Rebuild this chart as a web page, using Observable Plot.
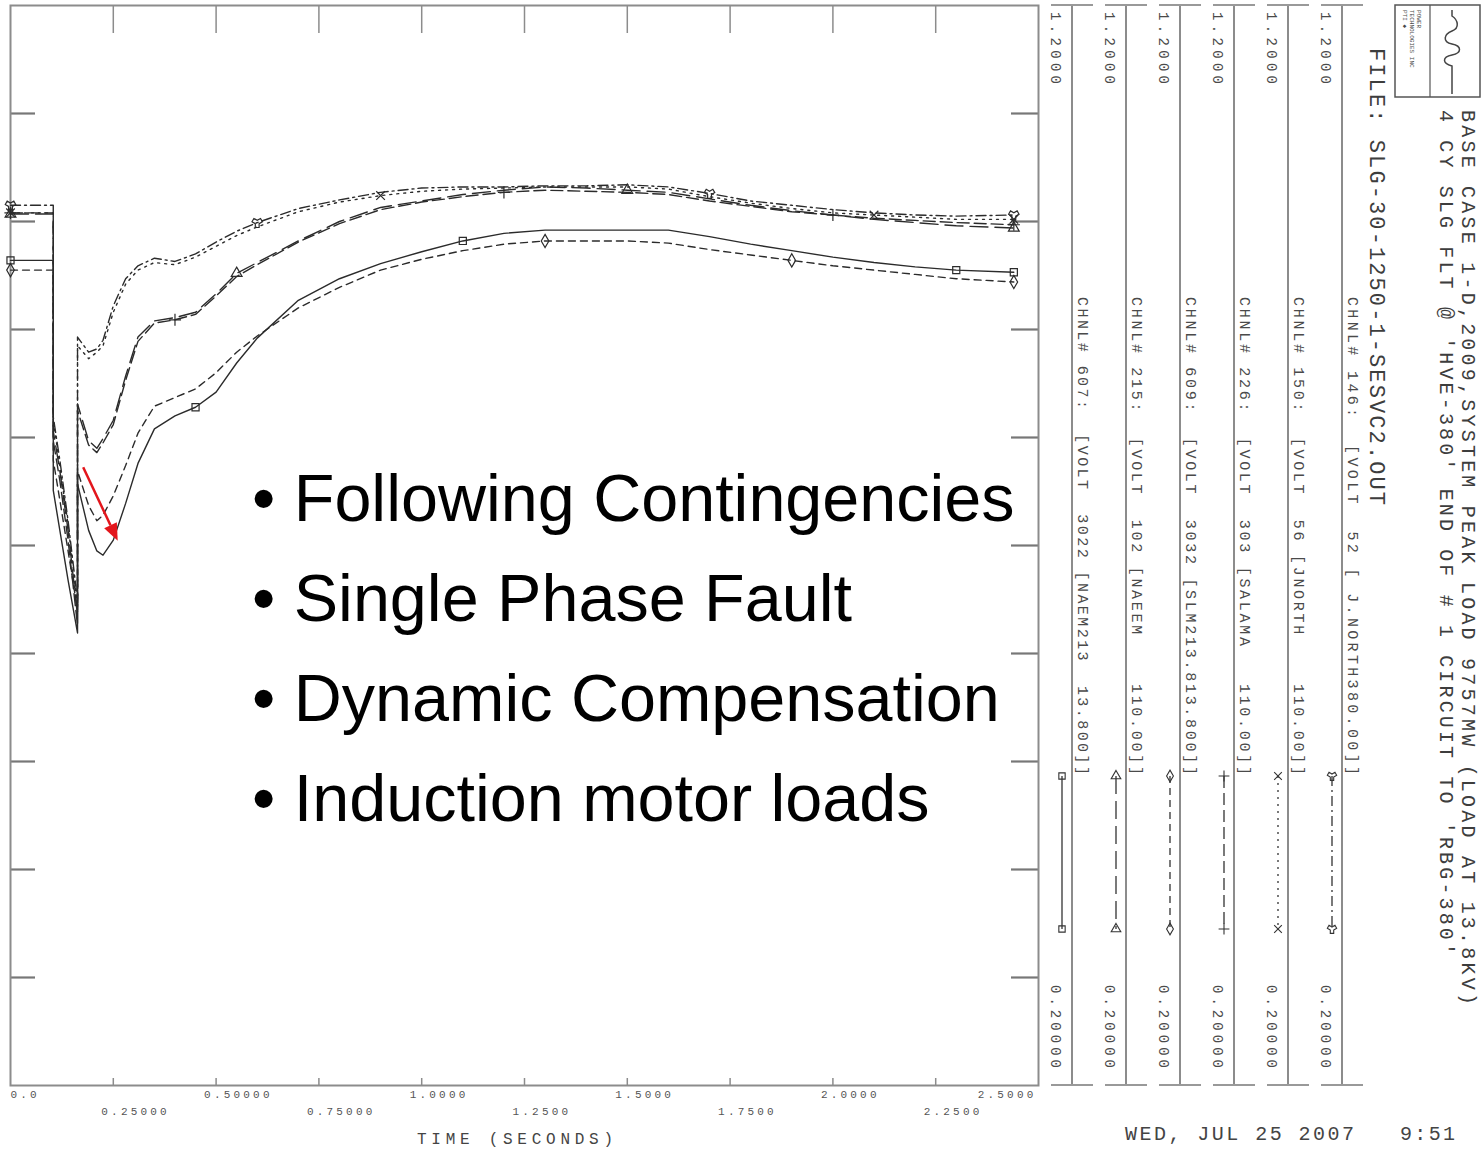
<!DOCTYPE html>
<html><head><meta charset="utf-8">
<script src="https://cdn.jsdelivr.net/npm/d3@7"></script>
<script src="https://cdn.jsdelivr.net/npm/@observablehq/plot@0.6"></script>
<style>
html,body{margin:0;padding:0;background:#fff;}
#wrap{position:relative;width:1481px;height:1151px;overflow:hidden;background:#fff;}
#bullets{position:absolute;left:252px;top:448px;font-family:"Liberation Sans",Arial,sans-serif;font-size:66.5px;line-height:100px;color:#000;white-space:pre;}
#chart svg g[font-size="11"]{letter-spacing:3.2px;}
</style></head><body>
<div id="wrap"><div id="chart"></div><div id="bullets"></div></div>
<script>
// ---------------- DATA ----------------
const time = [0, 0.104, 0.104, 0.12, 0.14, 0.163, 0.163, 0.19, 0.21, 0.225, 0.25, 0.28, 0.31, 0.35, 0.4, 0.45, 0.5, 0.55, 0.6, 0.7, 0.8, 0.9, 1.0, 1.1, 1.2, 1.3, 1.4, 1.5, 1.6, 1.7, 1.8, 1.9, 2.0, 2.1, 2.2, 2.3, 2.44];
const v146 = [1.015, 1.015, 0.819, 0.779, 0.723, 0.649, 0.893, 0.879, 0.882, 0.890, 0.922, 0.947, 0.959, 0.966, 0.963, 0.970, 0.981, 0.991, 0.999, 1.012, 1.020, 1.027, 1.031, 1.032, 1.032, 1.033, 1.033, 1.034, 1.032, 1.026, 1.019, 1.015, 1.011, 1.008, 1.006, 1.005, 1.006];
const v150 = [1.008, 1.008, 0.816, 0.774, 0.719, 0.644, 0.885, 0.873, 0.879, 0.885, 0.916, 0.942, 0.955, 0.962, 0.960, 0.967, 0.977, 0.987, 0.995, 1.009, 1.018, 1.024, 1.028, 1.030, 1.031, 1.032, 1.032, 1.032, 1.030, 1.023, 1.017, 1.012, 1.008, 1.006, 1.004, 1.002, 1.002];
const v215 = [1.007, 1.007, 0.806, 0.769, 0.714, 0.635, 0.831, 0.797, 0.790, 0.799, 0.816, 0.857, 0.893, 0.908, 0.911, 0.916, 0.933, 0.952, 0.962, 0.982, 1.000, 1.013, 1.019, 1.025, 1.029, 1.032, 1.031, 1.029, 1.027, 1.021, 1.015, 1.010, 1.006, 1.002, 0.999, 0.996, 0.994];
const v226 = [1.008, 1.008, 0.797, 0.760, 0.705, 0.626, 0.825, 0.793, 0.786, 0.795, 0.812, 0.853, 0.889, 0.906, 0.909, 0.914, 0.931, 0.949, 0.960, 0.981, 0.998, 1.011, 1.018, 1.023, 1.027, 1.029, 1.028, 1.027, 1.025, 1.019, 1.014, 1.009, 1.006, 1.003, 1.001, 0.999, 0.997];
const v609 = [0.955, 0.955, 0.779, 0.742, 0.695, 0.640, 0.769, 0.737, 0.723, 0.728, 0.746, 0.774, 0.804, 0.829, 0.837, 0.845, 0.860, 0.879, 0.894, 0.920, 0.939, 0.955, 0.965, 0.973, 0.979, 0.982, 0.982, 0.982, 0.980, 0.974, 0.969, 0.964, 0.959, 0.955, 0.951, 0.947, 0.944];
const v607 = [0.964, 0.964, 0.751, 0.714, 0.668, 0.619, 0.757, 0.714, 0.695, 0.691, 0.705, 0.739, 0.776, 0.808, 0.820, 0.828, 0.842, 0.869, 0.892, 0.927, 0.947, 0.961, 0.972, 0.982, 0.989, 0.992, 0.992, 0.992, 0.992, 0.986, 0.979, 0.973, 0.967, 0.962, 0.958, 0.955, 0.953];

const channels = ["607", "215", "609", "226", "150", "146"];
const channelLabels = [
  "CHNL# 607:  [VOLT  3022 [NAEM213  13.800]]",
  "CHNL# 215:  [VOLT  102 [NAEEM    110.00]]",
  "CHNL# 609:  [VOLT  3032 [SLM213.813.800]]",
  "CHNL# 226:  [VOLT  303 [SALAMA   110.00]]",
  "CHNL# 150:  [VOLT  56 [JNORTH    110.00]]",
  "CHNL# 146:  [VOLT  52 [ J.NORTH380.00]]"
];
const markerTimes = {
  "607": [0, 0.45, 1.1, 2.3, 2.44],
  "215": [0, 0.55, 1.5, 2.44],
  "609": [0, 1.3, 1.9, 2.44],
  "226": [0, 0.4, 1.2, 2.0, 2.44],
  "150": [0, 0.9, 2.1, 2.44],
  "146": [0, 0.6, 1.7, 2.44]
};
const xTickValues = [0, 0.25, 0.5, 0.75, 1.0, 1.25, 1.5, 1.75, 2.0, 2.25, 2.5];
const xTickLabels = ["0.0", "0.25000", "0.50000", "0.75000", "1.0000", "1.2500", "1.5000", "1.7500", "2.0000", "2.2500", "2.5000"];
const yTickValues = [0.3, 0.4, 0.5, 0.6, 0.7, 0.8, 0.9, 1.0, 1.1];
const scaleTopLabel = "1.2000";
const scaleBottomLabel = "0.20000";
const titleLines = [
  "BASE CASE 1-D,2009,SYSTEM PEAK LOAD 9757MW (LOAD AT 13.8KV)",
  "4 CY SLG FLT @ 'HVE-380' END OF # 1 CIRCUIT TO 'RBG-380'"
];
const fileLabel = "FILE: SLG-30-1250-1-SESVC2.OUT";
const dateLabel = "WED, JUL 25 2007";
const timeLabel = "9:51";
const xAxisTitle = "TIME (SECONDS)";
const bullets = ["• Following Contingencies", "• Single Phase Fault", "• Dynamic Compensation", "• Induction motor loads"];
const arrowFrom = {t: 0.178, v: 0.772};
const arrowTo = {t: 0.262, v: 0.704};

// ---------------- STYLES ----------------
const seriesValues = {"607": v607, "215": v215, "609": v609, "226": v226, "150": v150, "146": v146};
const lineStyle = {
  "607": {dash: undefined, symbol: "square"},
  "215": {dash: "18,7", symbol: "triangle"},
  "609": {dash: "7,5", symbol: "diamond"},
  "226": {dash: "12,5", symbol: "plus"},
  "150": {dash: "2,5", symbol: "times"},
  "146": {dash: "10,4,2,4", symbol: "wye"}
};
const rows = channels.flatMap(c => time.map((t, j) => ({ch: c, t, v: seriesValues[c][j]})));
const markerRows = c => {
  const seen = new Set();
  return rows.filter(r => r.ch === c && markerTimes[c].includes(r.t) && !seen.has(r.t) && seen.add(r.t));
};
const mono = "Liberation Mono, DejaVu Sans Mono, monospace";
const ticks = xTickValues.map((x, i) => ({x, label: xTickLabels[i], i}));
const last = xTickValues.length - 1;

const plot = Plot.plot({
  width: 1481, height: 1151,
  marginLeft: 10, marginRight: 443, marginTop: 5, marginBottom: 66,
  x: {domain: [0, 2.5], axis: null},
  y: {domain: [0.2, 1.2], axis: null},
  style: {background: "transparent", overflow: "visible", fontFamily: mono},
  marks: [
    Plot.tickX(xTickValues.slice(1, -1), {x: d => d, stroke: "#8c8c8c", strokeWidth: 1.5, insetBottom: 1080 - 28}),
    Plot.tickX(xTickValues.slice(1, -1), {x: d => d, stroke: "#8c8c8c", strokeWidth: 1.5, insetTop: 1080 - 7}),
    Plot.tickY(yTickValues, {y: d => d, stroke: "#777", strokeWidth: 2.2, insetRight: 1028 - 25}),
    Plot.tickY(yTickValues, {y: d => d, stroke: "#777", strokeWidth: 2.2, insetLeft: 1028 - 27}),
    Plot.frame({stroke: "#8c8c8c", strokeWidth: 2}),
    ...channels.map(c => Plot.line(rows.filter(r => r.ch === c), {
      x: "t", y: "v", stroke: "#2b2b2b", strokeWidth: 1.4, strokeDasharray: lineStyle[c].dash
    })),
    ...channels.map(c => Plot.dot(markerRows(c), {
      x: "t", y: "v", symbol: lineStyle[c].symbol, r: 4, stroke: "#2b2b2b", strokeWidth: 1.2, fill: "none"
    })),
    Plot.text(ticks.filter(d => d.i === 0), {x: "x", text: "label", frameAnchor: "bottom", textAnchor: "start", dy: 12, fontSize: 11, fill: "#555"}),
    Plot.text(ticks.filter(d => d.i > 0 && d.i < last && d.i % 2 === 0), {x: "x", text: "label", frameAnchor: "bottom", textAnchor: "start", dx: -12, dy: 12, fontSize: 11, fill: "#555"}),
    Plot.text(ticks.filter(d => d.i % 2 === 1), {x: "x", text: "label", frameAnchor: "bottom", textAnchor: "start", dx: -12, dy: 29, fontSize: 11, fill: "#555"}),
    Plot.text(ticks.filter(d => d.i === last), {x: "x", text: "label", frameAnchor: "bottom", textAnchor: "end", dx: -2, dy: 12, fontSize: 11, fill: "#555"})
  ]
});
document.getElementById("chart").appendChild(plot);

// ---------------- DECORATION (right panel, titles) ----------------
const svg = d3.select(plot);
const xs = plot.scale("x"), ys = plot.scale("y");
const symbolMap = {
  square: d3.symbolSquare, triangle: d3.symbolTriangle, diamond: d3.symbolDiamond,
  plus: d3.symbolPlus || d3.symbolCross, times: d3.symbolTimes || d3.symbolX || d3.symbolCross, wye: d3.symbolWye
};
const g = svg.append("g").attr("font-family", mono).attr("fill", "#4a4a4a").attr("text-anchor", "start");

function rotText(x, y, str, size, len, fill) {
  const t = g.append("text")
    .attr("transform", `translate(${x},${y}) rotate(90)`)
    .attr("dominant-baseline", "central")
    .attr("text-anchor", "start")
    .attr("font-size", size)
    .text(str);
  if (len) t.attr("textLength", len).attr("lengthAdjust", "spacing");
  if (fill) t.attr("fill", fill);
  return t;
}

channels.forEach((c, i) => {
  const L = 1072 + i * 54;
  g.append("line").attr("x1", L).attr("x2", L).attr("y1", 5).attr("y2", 1085).attr("stroke", "#8c8c8c").attr("stroke-width", 2);
  g.append("line").attr("x1", L - 21).attr("x2", L + 21).attr("y1", 5).attr("y2", 5).attr("stroke", "#999").attr("stroke-width", 2);
  g.append("line").attr("x1", L - 21).attr("x2", L + 21).attr("y1", 1085).attr("y2", 1085).attr("stroke", "#999").attr("stroke-width", 2);
  rotText(L - 17, 12, scaleTopLabel, 14, 72);
  rotText(L - 17, 985, scaleBottomLabel, 14, 83);
  rotText(L + 9, 297, channelLabels[i], 15, 478);
  const st = lineStyle[c];
  g.append("line").attr("x1", L - 10).attr("x2", L - 10).attr("y1", 776).attr("y2", 929)
    .attr("stroke", "#333").attr("stroke-width", 1.3).attr("stroke-dasharray", st.dash || null);
  [776, 929].forEach(y => {
    g.append("path").attr("transform", `translate(${L - 10},${y})`)
      .attr("d", d3.symbol(symbolMap[st.symbol], 40)())
      .attr("fill", "none").attr("stroke", "#333").attr("stroke-width", 1.1);
  });
});

rotText(1467, 110, titleLines[0], 20, 895, "#3d3d3d");
rotText(1445, 110, titleLines[1], 20, 845, "#3d3d3d");
rotText(1375, 48, fileLabel, 22, 457, "#3d3d3d");

// logo box
g.append("rect").attr("x", 1395).attr("y", 5).attr("width", 85).attr("height", 92).attr("fill", "none").attr("stroke", "#555").attr("stroke-width", 1.5);
g.append("line").attr("x1", 1430).attr("x2", 1430).attr("y1", 5).attr("y2", 97).attr("stroke", "#555").attr("stroke-width", 1.2);
g.append("path").attr("d", "M1452,94 V66 C1442,63 1442,57 1452,55 C1462,53 1462,46 1452,44 C1442,42 1444,34 1452,31 C1460,28 1458,20 1452,16 V10")
  .attr("fill", "none").attr("stroke", "#444").attr("stroke-width", 1.5);
rotText(1418, 10, "POWER", 6);
rotText(1411, 10, "TECHNOLOGIES INC", 6);
rotText(1404, 10, "PTI \u25C6", 6);

// bottom texts
const bt = (x, y, len, str, size) => g.append("text").attr("x", x).attr("y", y).attr("font-size", size).attr("text-anchor", "start")
  .attr("textLength", len).attr("lengthAdjust", "spacing").attr("fill", "#444").text(str);
bt(417, 1144, 196, xAxisTitle, 16);
bt(1125, 1140, 229, dateLabel, 20);
bt(1400, 1140, 55, timeLabel, 20);

// red annotation arrow
{
  const x1 = xs.apply(arrowFrom.t), y1 = ys.apply(arrowFrom.v);
  const x2 = xs.apply(arrowTo.t), y2 = ys.apply(arrowTo.v);
  const dx = x2 - x1, dy = y2 - y1, len = Math.hypot(dx, dy);
  const ux = dx / len, uy = dy / len, px = -uy, py = ux;
  const hl = 17, hw = 7;
  const bx = x2 - ux * hl, by = y2 - uy * hl;
  svg.append("line").attr("x1", x1).attr("y1", y1).attr("x2", bx).attr("y2", by).attr("stroke", "#e3161c").attr("stroke-width", 2.5);
  svg.append("path").attr("d", `M${x2},${y2}L${bx + px * hw},${by + py * hw}L${bx - px * hw},${by - py * hw}Z`).attr("fill", "#e3161c");
}

document.getElementById("bullets").textContent = bullets.join("\n");
</script>
</body></html>
